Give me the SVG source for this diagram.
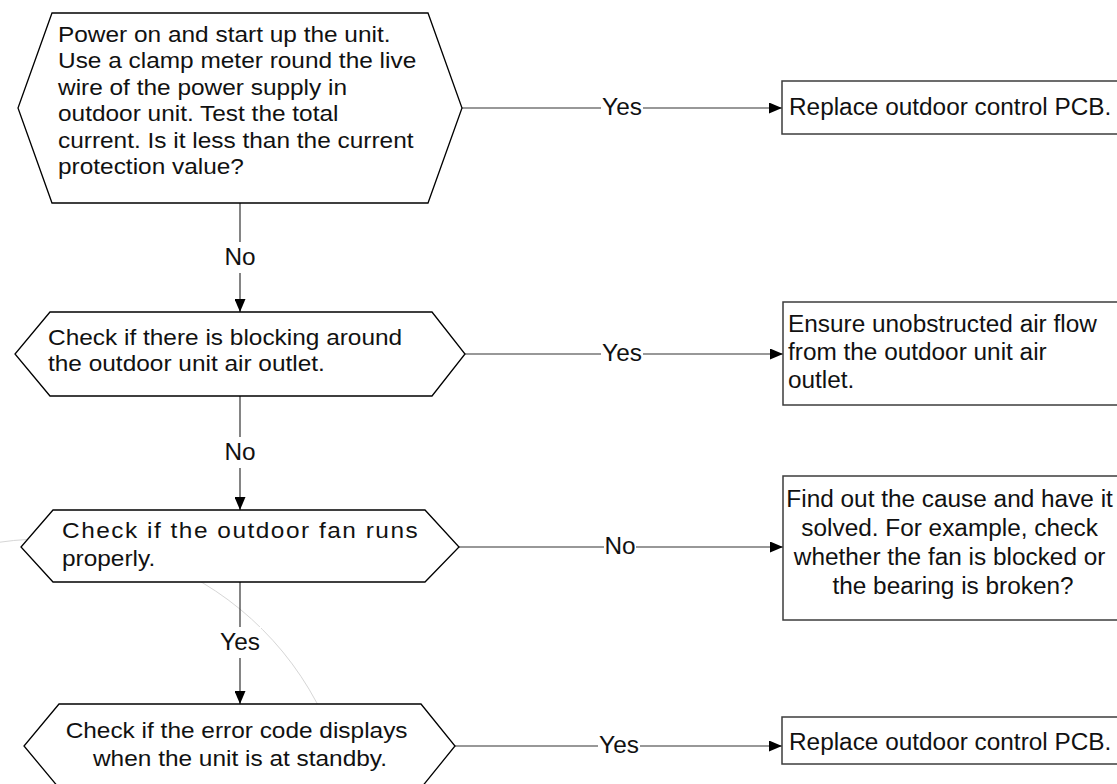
<svg xmlns="http://www.w3.org/2000/svg" width="1117" height="784" viewBox="0 0 1117 784">
  <style>
    .bg { fill: #ffffff; }
    .hex { fill: #ffffff; stroke: #000000; stroke-width: 1.3; }
    .box { fill: #ffffff; stroke: #3c3c3c; stroke-width: 1.5; }
    .wire { fill: none; stroke: #333333; stroke-width: 1.2; }
    .halo { fill: #ffffff; }
    .arc { fill: none; stroke: #d6d6d6; stroke-width: 1; }
    text { font-family: "Liberation Sans", Arial, sans-serif; fill: #111111; }
    .t { font-size: 22px; }
    .b { font-size: 23px; }
    .lbl { font-size: 23px; text-anchor: middle; }
    .mid { text-anchor: middle; }
  </style>
  <defs>
    <marker id="arrow" markerUnits="userSpaceOnUse" markerWidth="13" markerHeight="11" refX="13" refY="5.5" orient="auto">
      <path d="M0,0 L13,5.5 L0,11 Z" fill="#000000"/>
    </marker>
  </defs>

  <rect class="bg" x="0" y="0" width="1117" height="784"/>

  <!-- faint construction arc behind the chart -->
  <circle class="arc" cx="44" cy="848" r="309"/>

  <!-- connectors -->
  <g id="connectors">
    <line class="wire" x1="240" y1="203" x2="240" y2="312" marker-end="url(#arrow)"/>
    <line class="wire" x1="240" y1="396" x2="240" y2="510" marker-end="url(#arrow)"/>
    <line class="wire" x1="240" y1="582" x2="240" y2="704" marker-end="url(#arrow)"/>
    <line class="wire" x1="462" y1="108" x2="782" y2="108" marker-end="url(#arrow)"/>
    <line class="wire" x1="465" y1="354" x2="783" y2="354" marker-end="url(#arrow)"/>
    <line class="wire" x1="459" y1="547" x2="783" y2="547" marker-end="url(#arrow)"/>
    <line class="wire" x1="455" y1="746" x2="782" y2="746" marker-end="url(#arrow)"/>

    <rect class="halo" x="226" y="242" width="28" height="31"/>
    <text class="lbl" transform="translate(240 0) scale(1.06 1)" x="0" y="265">No</text>
    <rect class="halo" x="226" y="437" width="28" height="31"/>
    <text class="lbl" transform="translate(240 0) scale(1.06 1)" x="0" y="460">No</text>
    <rect class="halo" x="219" y="627" width="42" height="31"/>
    <text class="lbl" transform="translate(240 0) scale(1.06 1)" x="0" y="650">Yes</text>

    <rect class="halo" x="601" y="97" width="42" height="22"/>
    <text class="lbl" transform="translate(622 0) scale(1.06 1)" x="0" y="115">Yes</text>
    <rect class="halo" x="601" y="343" width="42" height="22"/>
    <text class="lbl" transform="translate(622 0) scale(1.06 1)" x="0" y="361">Yes</text>
    <rect class="halo" x="604" y="536" width="32" height="22"/>
    <text class="lbl" transform="translate(620 0) scale(1.06 1)" x="0" y="554">No</text>
    <rect class="halo" x="598" y="735" width="42" height="22"/>
    <text class="lbl" transform="translate(619 0) scale(1.06 1)" x="0" y="753">Yes</text>
  </g>

  <!-- decisions -->
  <g id="check-current">
    <polygon class="hex" points="52,13 428,13 462,108 428,203 52,203 18,108"/>
    <text class="t" transform="translate(58 0) scale(1.11 1)">
      <tspan x="0" y="42">Power on and start up the unit.</tspan>
      <tspan x="0" y="68.4">Use a clamp meter round the live</tspan>
      <tspan x="0" y="94.8">wire of the power supply in</tspan>
      <tspan x="0" y="121.2">outdoor unit. Test the total</tspan>
      <tspan x="0" y="147.6">current. Is it less than the current</tspan>
      <tspan x="0" y="174">protection value?</tspan>
    </text>
  </g>

  <g id="check-blocking">
    <polygon class="hex" points="50,312 432,312 465,354 432,396 50,396 15,354"/>
    <text class="t" transform="translate(48 0) scale(1.11 1)">
      <tspan x="0" y="345">Check if there is blocking around</tspan>
      <tspan x="0" y="371.5">the outdoor unit air outlet.</tspan>
    </text>
  </g>

  <g id="check-fan">
    <polygon class="hex" points="53,510 425,510 459,547 425,582 53,582 21,547"/>
    <text class="t" transform="translate(62 0) scale(1.11 1)">
      <tspan x="0" y="538" letter-spacing="1.36">Check if the outdoor fan runs</tspan>
      <tspan x="0" y="566">properly.</tspan>
    </text>
  </g>

  <g id="check-standby">
    <polygon class="hex" points="59,704 421,704 455,746 421,788 59,788 24,746"/>
    <text class="t mid" transform="translate(240 0) scale(1.11 1)">
      <tspan x="0" y="738">Check if the error code displays</tspan>
      <tspan x="0" y="766">when the unit is at standby.</tspan>
    </text>
  </g>

  <!-- actions -->
  <g id="replace-pcb-1">
    <rect class="box" x="782" y="81" width="345" height="53"/>
    <text class="b" transform="translate(789 0) scale(1.06 1)" x="0" y="115">Replace outdoor control PCB.</text>
  </g>

  <g id="clear-air-flow">
    <rect class="box" x="783" y="302" width="345" height="103"/>
    <text class="b" transform="translate(788 0) scale(1.06 1)">
      <tspan x="0" y="332">Ensure unobstructed air flow</tspan>
      <tspan x="0" y="360">from the outdoor unit air</tspan>
      <tspan x="0" y="388">outlet.</tspan>
    </text>
  </g>

  <g id="fix-fan">
    <rect class="box" x="783" y="476" width="345" height="144"/>
    <text class="b mid" transform="translate(953 0) scale(1.06 1)">
      <tspan x="0" y="507">Find out the cause and have it</tspan>
      <tspan x="0" y="536">solved. For example, check</tspan>
      <tspan x="0" y="565">whether the fan is blocked or</tspan>
      <tspan x="0" y="594">the bearing is broken?</tspan>
    </text>
  </g>

  <g id="replace-pcb-2">
    <rect class="box" x="782" y="717" width="345" height="47"/>
    <text class="b" transform="translate(789 0) scale(1.06 1)" x="0" y="750">Replace outdoor control PCB.</text>
  </g>
</svg>
